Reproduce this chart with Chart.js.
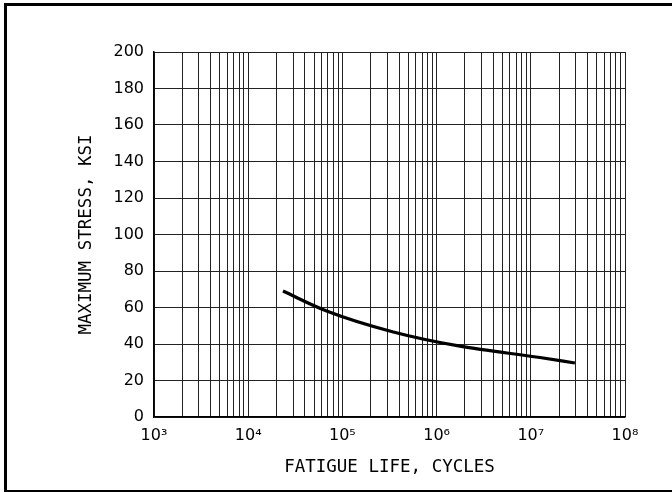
<!DOCTYPE html>
<html>
<head>
<meta charset="utf-8">
<script src="https://cdn.jsdelivr.net/npm/chart.js@4/dist/chart.umd.min.js"></script>
<style>
  html, body { margin: 0; padding: 0; background: #fff; overflow: hidden; }
  #frame { position: absolute; left: 4px; top: 3px; width: 720px; height: 490px; box-sizing: border-box;
           border-top: 3px solid #000; border-left: 3px solid #000; border-bottom: 3px solid #000; }
  #wrap { position: absolute; left: 0; top: 0; width: 672px; height: 492px; }
</style>
</head>
<body>
<div id="frame"></div>
<div id="wrap"><canvas id="c" width="672" height="492"></canvas></div>
<script>
// Data
const cycles = [2.34e4, 6.8e4, 3.47e5, 1.77e6, 1.25e7, 2.94e7];
const stress = [69, 58.1, 46.6, 38.8, 32.6, 29.6];
const xTickLabels = { 1e3: '10³', 1e4: '10⁴', 1e5: '10⁵', 1e6: '10⁶', 1e7: '10⁷', 1e8: '10⁸' };
const yTicks = [0, 20, 40, 60, 80, 100, 120, 140, 160, 180, 200];
const xTitle = 'FATIGUE LIFE, CYCLES';
const yTitle = 'MAXIMUM STRESS, KSI';

const points = cycles.map((x, i) => ({ x: x, y: stress[i] }));
const titleFont = { family: 'DejaVu Sans Mono', size: 17.5 };
const tickFont = { family: 'DejaVu Sans', size: 16 };

new Chart(document.getElementById('c'), {
  type: 'scatter',
  data: {
    datasets: [{
      data: points,
      showLine: true,
      borderColor: '#000',
      borderWidth: 3.2,
      pointRadius: 0,
      cubicInterpolationMode: 'monotone',
      fill: false
    }]
  },
  options: {
    responsive: false,
    animation: false,
    devicePixelRatio: 1,
    layout: { padding: { top: 52, right: 47, left: 0, bottom: 0 } },
    plugins: { legend: { display: false }, tooltip: { enabled: false } },
    scales: {
      x: {
        type: 'logarithmic',
        min: 1e3, max: 1e8,
        afterBuildTicks: (scale) => {
          const t = [];
          for (let e = 3; e < 8; e++) {
            for (let m = 1; m <= 9; m++) t.push({ value: m * Math.pow(10, e) });
          }
          t.push({ value: 1e8 });
          scale.ticks = t;
        },
        afterFit: (scale) => { scale.height = 75; },
        grid: { color: '#222', lineWidth: 1, drawTicks: false },
        border: { color: '#000', width: 1.5 },
        ticks: {
          autoSkip: false, maxRotation: 0, minRotation: 0,
          padding: 9, color: '#000', font: tickFont,
          callback: function (v) {
            const k = Math.round(Math.log10(v));
            return Math.abs(Math.pow(10, k) - v) < 1e-6 * v ? xTickLabels[Math.pow(10, k)] : '';
          }
        },
        title: { display: true, text: xTitle, color: '#000', font: titleFont, padding: { top: 14, bottom: 14 } }
      },
      y: {
        min: 0, max: 200,
        afterBuildTicks: (scale) => { scale.ticks = yTicks.map(v => ({ value: v })); },
        afterFit: (scale) => { scale.width = 154; },
        grid: { color: '#222', lineWidth: 1, drawTicks: false },
        border: { color: '#000', width: 1.5 },
        ticks: { padding: 10, color: '#000', font: tickFont },
        title: { display: true, text: yTitle, color: '#000', font: titleFont, padding: { top: 76, bottom: 76 } }
      }
    }
  }
});
</script>
</body>
</html>
